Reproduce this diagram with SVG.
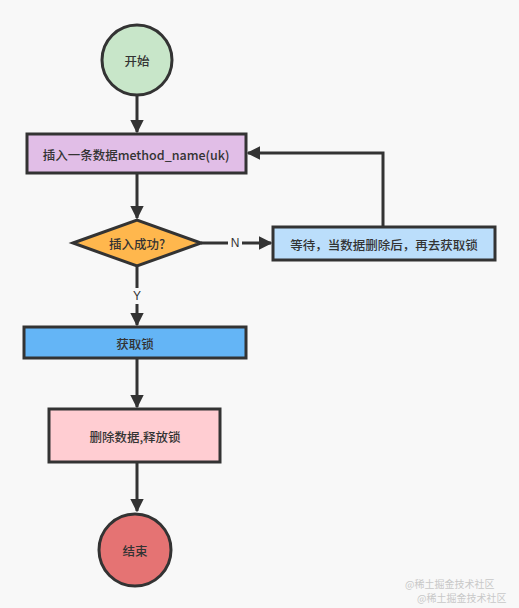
<svg xmlns="http://www.w3.org/2000/svg" width="519" height="608" viewBox="0 0 519 608">
<style>
.n{stroke:#333;stroke-width:3}
.t{font-family:"Noto Sans CJK SC","Liberation Sans",sans-serif;font-size:12.5px;font-weight:500;fill:#333;text-anchor:middle;dominant-baseline:central}
.c{fill:none;stroke:#333;stroke-width:3}
.l{font-family:"Liberation Sans","Noto Sans CJK SC",sans-serif;font-size:12px;fill:#333;text-anchor:middle;dominant-baseline:central}
.w{font-family:"Noto Sans CJK SC",sans-serif;font-size:10px;fill:#c8c8c8}
</style>
<defs>
<marker id="a" viewBox="0 0 10 10" refX="9" refY="5" markerWidth="4.5" markerHeight="4.5" orient="auto" markerUnits="strokeWidth">
<path d="M0,0 L10,5 L0,10 z" fill="#333"/>
</marker>
</defs>
<rect width="519" height="608" fill="#f8f8f8"/>
<g id="connectors">
<path class="c" d="M137,96 V132" marker-end="url(#a)"/>
<path class="c" d="M137,173 V218" marker-end="url(#a)"/>
<path class="c" d="M201,243 H271" marker-end="url(#a)"/>
<path class="c" d="M383,227 V153 H248" marker-end="url(#a)"/>
<path class="c" d="M137,267 V325" marker-end="url(#a)"/>
<path class="c" d="M137,358 V407" marker-end="url(#a)"/>
<path class="c" d="M137,462 V511" marker-end="url(#a)"/>
<rect x="228" y="235" width="14" height="16" fill="#f8f8f8"/>
<text class="l" x="235" y="243">N</text>
<rect x="130" y="288" width="14" height="16" fill="#f8f8f8"/>
<text class="l" x="137" y="296">Y</text>
</g>
<g id="start">
<circle class="n" cx="137" cy="60" r="35" fill="#c8e6c9"/>
<text class="t" x="137" y="60">开始</text>
</g>
<g id="insert">
<rect class="n" x="27" y="134" width="219" height="39" fill="#e1bee7"/>
<text class="t" x="136" y="154">插入一条数据method_name(uk)</text>
</g>
<g id="decision">
<polygon class="n" points="73,243 137,220 201,243 137,266" fill="#ffb74d"/>
<text class="t" x="137" y="243">插入成功?</text>
</g>
<g id="wait">
<rect class="n" x="273" y="227" width="222" height="33" fill="#bbdefb"/>
<text class="t" x="384" y="244">等待，当数据删除后，再去获取锁</text>
</g>
<g id="lock">
<rect class="n" x="24" y="327" width="222" height="31" fill="#64b5f6"/>
<text class="t" x="135" y="343">获取锁</text>
</g>
<g id="delete">
<rect class="n" x="49" y="409" width="171" height="53" fill="#ffcdd2"/>
<text class="t" x="135" y="436">删除数据,释放锁</text>
</g>
<g id="end">
<circle class="n" cx="135" cy="550" r="36" fill="#e57373"/>
<text class="t" x="135" y="550">结束</text>
</g>
<text class="w" x="405" y="588">@稀土掘金技术社区</text>
<text class="w" x="417" y="602">@稀土掘金技术社区</text>
</svg>
